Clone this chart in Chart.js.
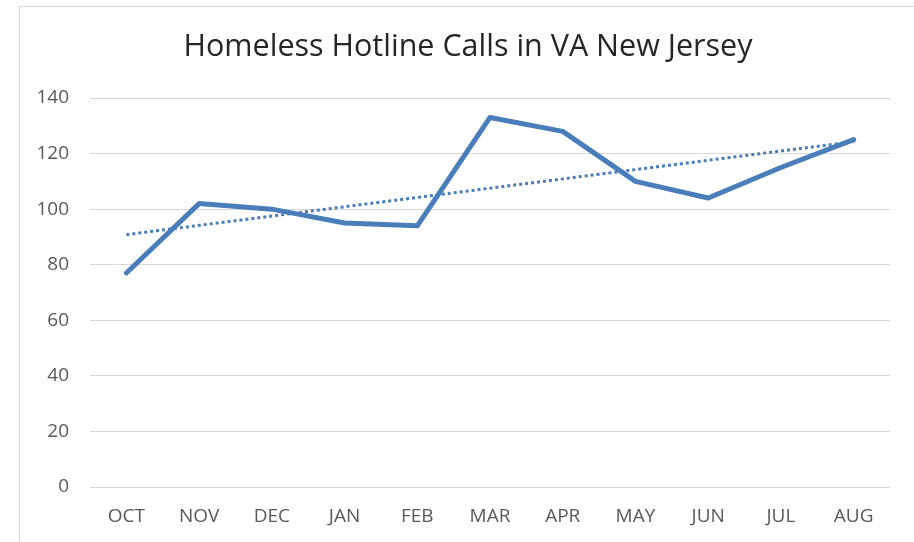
<!DOCTYPE html>
<html>
<head>
<meta charset="utf-8">
<script src="https://cdn.jsdelivr.net/npm/chart.js"></script>
<style>
  html, body { margin: 0; padding: 0; background: #fff; overflow: hidden; }
  .frame { position: absolute; left: 19px; top: 6px; width: 1000px; height: 600px; border: 1px solid #d9d9d9; }
  .wrap { position: absolute; left: 0; top: 0; width: 914px; height: 542px; }
</style>
</head>
<body>
<div class="frame"></div>
<div class="wrap"><canvas id="chart"></canvas></div>
<script>
const months = ["OCT", "NOV", "DEC", "JAN", "FEB", "MAR", "APR", "MAY", "JUN", "JUL", "AUG"];
const calls = [77, 102, 100, 95, 94, 133, 128, 110, 104, 115, 125];
const yTicks = [0, 20, 40, 60, 80, 100, 120, 140];
const titleText = "Homeless Hotline Calls in VA New Jersey";

// linear trendline, same as Excel's
function linearTrend(values) {
  const n = values.length;
  const mx = (n - 1) / 2;
  const my = values.reduce((a, b) => a + b, 0) / n;
  let sxy = 0, sxx = 0;
  values.forEach((v, i) => {
    sxy += (i - mx) * (v - my);
    sxx += (i - mx) * (i - mx);
  });
  const slope = sxy / sxx;
  return values.map((_, i) => my + slope * (i - mx));
}

const blue = "#4A7EBB";
const labelColor = "#595959";
const font = "'Open Sans', sans-serif";

// title sits a bit left of the plot centre, like the Excel chart frame
const chartTitle = {
  id: "chartTitle",
  afterDraw(chart) {
    const ctx = chart.ctx;
    ctx.save();
    ctx.font = "30.5px " + font;
    ctx.fillStyle = "#262626";
    ctx.textAlign = "center";
    ctx.textBaseline = "alphabetic";
    ctx.fillText(titleText, 468, 56);
    ctx.restore();
  },
};

new Chart(document.getElementById("chart"), {
  type: "line",
  data: {
    labels: months,
    datasets: [
      {
        label: "Linear (Calls)",
        data: linearTrend(calls),
        borderColor: blue,
        borderWidth: 3,
        borderDash: [3, 3],
        pointRadius: 0,
        fill: false,
      },
      {
        label: "Calls",
        data: calls,
        borderColor: blue,
        borderWidth: 5,
        borderJoinStyle: "round",
        borderCapStyle: "round",
        pointRadius: 0,
        tension: 0,
        fill: false,
      },
    ],
  },
  options: {
    responsive: true,
    maintainAspectRatio: false,
    animation: false,
    layout: { padding: { left: 0, right: 24, top: 98, bottom: 0 } },
    plugins: {
      legend: { display: false },
      tooltip: { enabled: false },
      title: { display: false },
    },
    scales: {
      x: {
        offset: true,
        grid: { display: false, drawTicks: false },
        border: { display: false },
        ticks: { color: labelColor, font: { family: font, size: 19 }, padding: 18, maxRotation: 0 },
        afterFit(scale) { scale.height = 55; },
      },
      y: {
        min: 0,
        max: 140,
        grid: { color: "#d9d9d9", lineWidth: 1, drawTicks: false },
        border: { display: false },
        ticks: {
          color: labelColor,
          font: { family: font, size: 19 },
          padding: 21,
          stepSize: 20,
        },
        afterBuildTicks(scale) { scale.ticks = yTicks.map(v => ({ value: v })); },
        afterFit(scale) { scale.width = 90; },
      },
    },
  },
  plugins: [chartTitle],
});
</script>
</body>
</html>
